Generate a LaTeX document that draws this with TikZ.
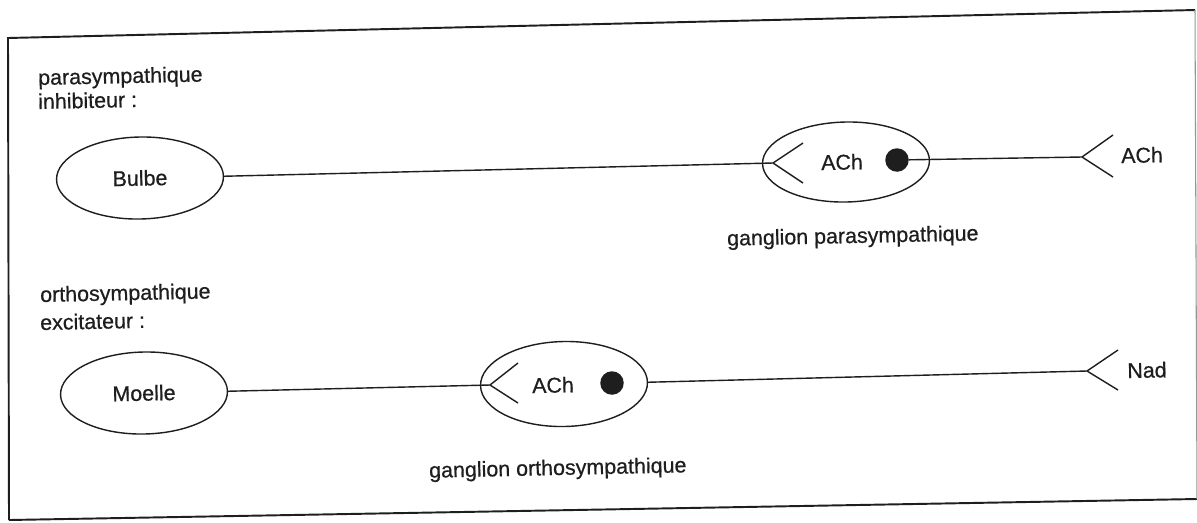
\documentclass[tikz,border=0pt]{standalone}
\usepackage{fontspec}
\setmainfont{Liberation Sans}[FakeBold=0.6]
\usetikzlibrary{shapes.geometric}
\definecolor{ink}{RGB}{30,30,30}
\definecolor{faint}{RGB}{150,150,150}
\begin{document}
\begin{tikzpicture}[x=0.02cm,y=-0.02cm,
  every node/.append style={rotate=1.2, text=ink, font=\fontsize{12.2}{14}\selectfont},
  organ/.style={draw=ink, ellipse, line width=0.8pt, minimum width=3.34cm, minimum height=1.64cm, inner sep=0pt},
  wire/.style={draw=ink, line width=0.8pt},
  frame/.style={draw=ink, line width=1.1pt},
  vesicle/.style={circle, fill=ink, minimum size=0.47cm, inner sep=0pt},
  lbl/.style={inner sep=0pt}]
\useasboundingbox (0,0) rectangle (1197,522);
\fill[white] (0,0) rectangle (1197,522);

% frame
\coordinate (ftl) at (8,38);
\coordinate (ftr) at (1195,10);
\coordinate (fbr) at (1197,499);
\coordinate (fbl) at (9,520);
\draw[frame] (fbl) -- (ftl) -- (ftr);
\draw[frame] (fbl) -- (fbr);
\draw[draw=faint, line width=0.6pt] (ftr) -- (fbr);

% upper row: parasympathique
\node[lbl, anchor=base west] (t1a) at (38,85) {parasympathique};
\node[lbl, anchor=base west] (t1b) at (38,109) {inhibiteur :};
\node[organ] (bulbe) at (140,178) {Bulbe};
\node[organ, minimum height=1.6cm] (g1) at (846,162) {};
\node[lbl] (ach1) at (842,162) {ACh};
\node[vesicle] (d1) at (897,160) {};
\coordinate (v1) at (773,163);
\coordinate (w1) at (1082,157);
\node[lbl] (ach2) at (1142,155) {ACh};
\node[lbl, anchor=base] (gp) at (853,243) {ganglion parasympathique};
\draw[wire] (bulbe.east) -- (v1);
\draw[wire] (v1) -- ++(30,-20) (v1) -- ++(30,20);
\draw[wire] (d1) -- (w1);
\draw[wire] (w1) -- ++(31,-22) (w1) -- ++(31,20);

% lower row: orthosympathique
\node[lbl, anchor=base west] (t2a) at (40,302) {orthosympathique};
\node[lbl, anchor=base west] (t2b) at (40,330) {excitateur :};
\node[organ] (moelle) at (144,393) {Moelle};
\node[organ, minimum height=1.7cm] (g2) at (564,384) {};
\node[lbl] (ach3) at (553,385) {ACh};
\node[vesicle] (d2) at (612,383) {};
\coordinate (v2) at (490,385);
\coordinate (w2) at (1087,371);
\node[lbl] (nad) at (1147,370) {Nad};
\node[lbl, anchor=base] (go) at (558,475) {ganglion orthosympathique};
\draw[wire] (moelle.east) -- (v2);
\draw[wire] (v2) -- ++(28,-22) (v2) -- ++(28,18);
\draw[wire] (g2.east) -- (w2);
\draw[wire] (w2) -- ++(31,-21) (w2) -- ++(31,19);
\end{tikzpicture}
\end{document}
